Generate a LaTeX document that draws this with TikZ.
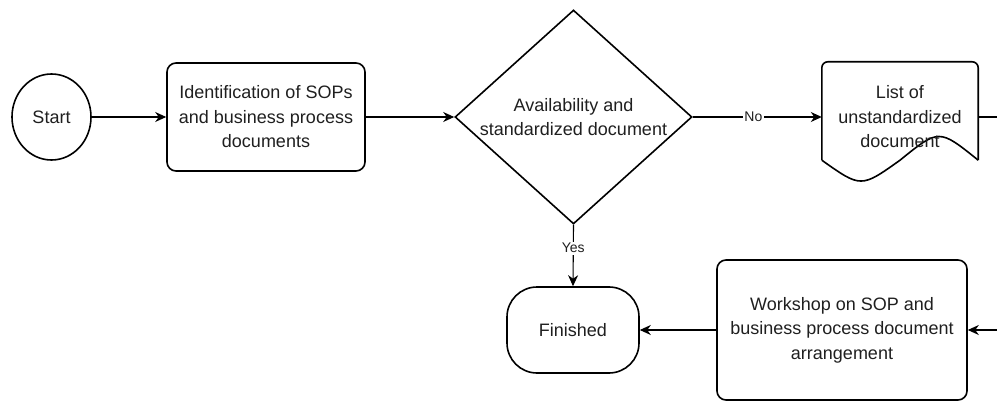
\documentclass[tikz,border=0pt]{standalone}
\usepackage{fontspec}
\setmainfont{Liberation Sans}
\usetikzlibrary{shapes.geometric,arrows.meta}

\tikzset{
  shapeline/.style={draw=black, line width=1.6pt},
  txt/.style={align=center, text=black!88, font=\fontsize{18}{24.5}\selectfont, inner sep=0pt},
  procbox/.style={shapeline, rectangle, rounded corners=9pt, inner sep=0pt},
  conn/.style={draw=black, line width=1.1pt, -{Stealth[length=11pt,width=10pt,inset=3.5pt]}},
  plainconn/.style={draw=black, line width=1.1pt},
  edgelabel/.style={fill=white, inner sep=1.5pt, text=black!88, font=\fontsize{14}{16}\selectfont}
}

\begin{document}
\begin{tikzpicture}[x=1pt,y=-1pt]
  \useasboundingbox (0,0) rectangle (997,401);

  % start event
  \node[shapeline, ellipse, inner sep=0pt, minimum width=79pt, minimum height=86pt] (start) at (51.5,117) {};
  \node[txt] (starttext) at (start) {Start};

  % identification step
  \node[procbox, minimum width=198pt, minimum height=108pt] (ident) at (266,117) {};
  \node[txt] (identtext) at (ident) {Identification of SOPs\\and business process\\documents};

  % decision
  \node[shapeline, diamond, inner sep=0pt, minimum width=237pt, minimum height=214pt] (dec) at (573.5,117) {};
  \node[txt] (dectext) at (dec) {Availability and\\standardized document};

  % document shape with wavy bottom
  \node[minimum width=156pt, minimum height=98pt, inner sep=0pt] (doc) at (900,111) {};
  \draw[shapeline, rounded corners=6pt]
    (doc.south west) -- (doc.north west) -- (doc.north east) -- (doc.south east);
  \draw[shapeline]
    (doc.south east) .. controls (939,128.6) .. (doc.south)
    .. controls (861,188) .. (doc.south west);
  \node[txt] (doctext) at (900,117) {List of\\unstandardized\\document};

  % end event
  \node[shapeline, rectangle, rounded corners=30pt, inner sep=0pt, minimum width=132pt, minimum height=86pt] (fin) at (573,330) {};
  \node[txt] (fintext) at (fin) {Finished};

  % workshop step
  \node[procbox, minimum width=250pt, minimum height=140pt] (work) at (842,330) {};
  \node[txt] (worktext) at (work) {Workshop on SOP and\\business process document\\arrangement};

  % loose ends at the right border
  \coordinate (outR) at (997,117);
  \coordinate (inR) at (997,330);

  % connectors
  \draw[conn] (start.east) -- (ident.west);
  \draw[conn] (ident.east) -- (dec.west);
  \draw[conn] (dec.east) -- node[edgelabel, pos=0.47] (nolabel) {No} (dec.east -| doc.west);
  \draw[plainconn] (outR -| doc.east) -- (outR);
  \draw[conn] (dec.south) -- node[edgelabel, pos=0.38] (yeslabel) {Yes} (fin.north);
  \draw[conn] (inR) -- (work.east);
  \draw[conn] (work.west) -- (fin.east);
\end{tikzpicture}
\end{document}
